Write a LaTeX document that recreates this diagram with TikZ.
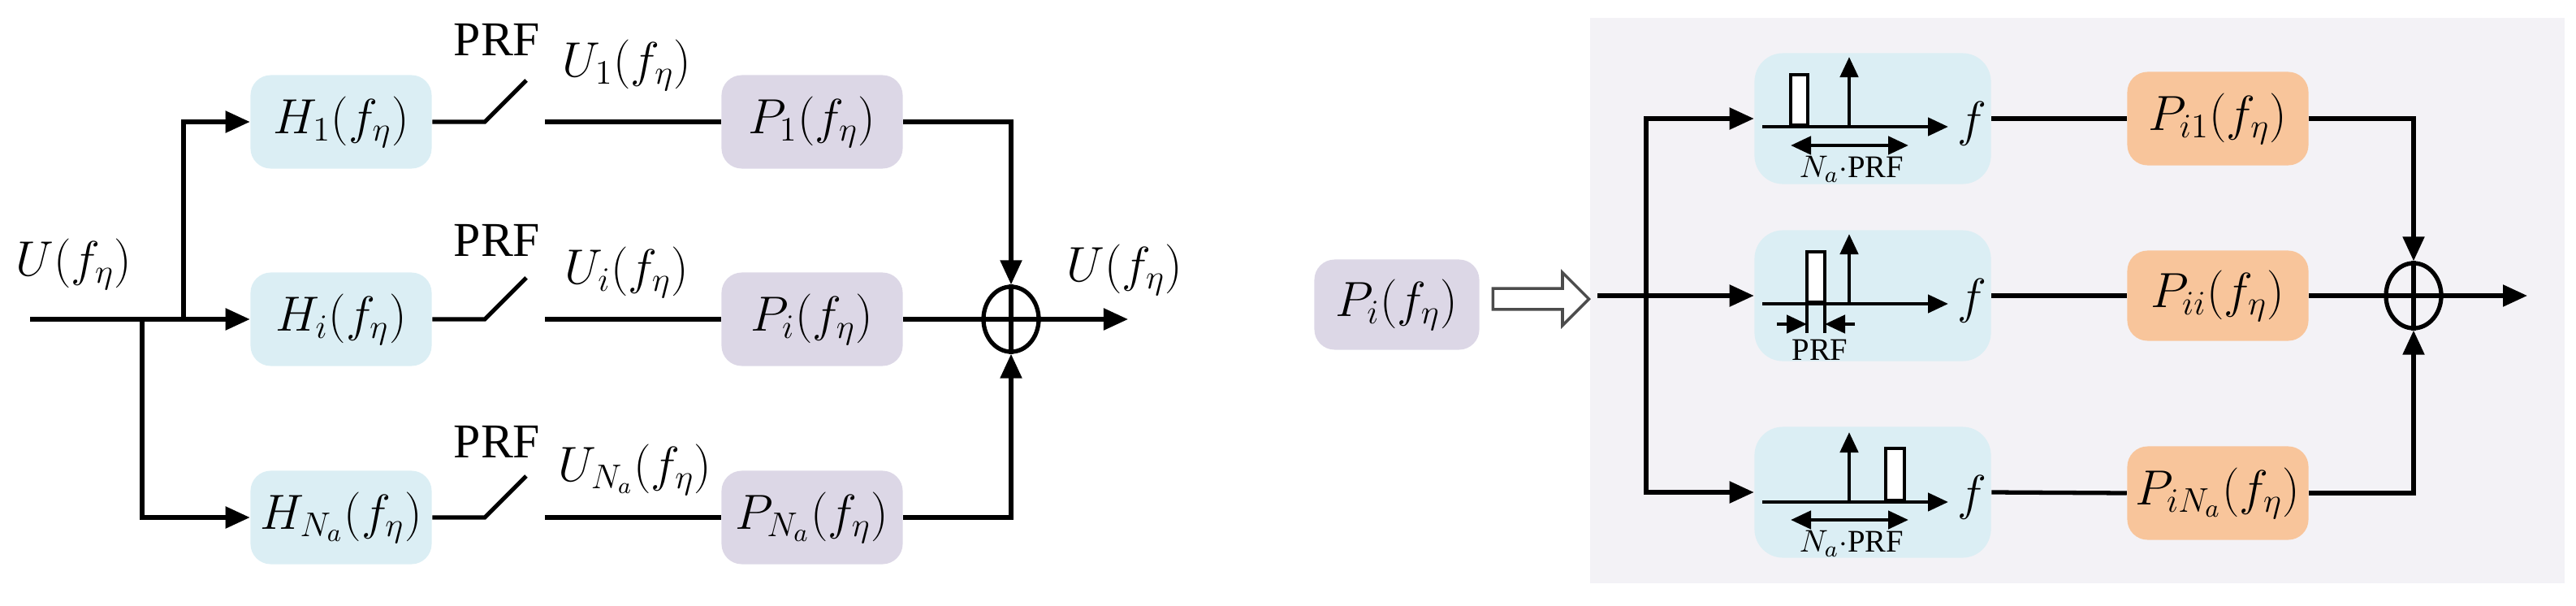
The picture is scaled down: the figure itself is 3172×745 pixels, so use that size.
\documentclass[tikz,border=0pt]{standalone}
\usepackage{fontspec}
\setmainfont{Liberation Serif}
\usetikzlibrary{arrows.meta,shapes.geometric,shapes.arrows}
\definecolor{hblue}{HTML}{DBEEF4}
\definecolor{ppurp}{HTML}{DCD7E6}
\definecolor{porange}{HTML}{F8C59B}
\definecolor{bgc}{HTML}{F3F2F6}
\tikzset{
  blk/.style={rounded corners=0.25cm, minimum width=2.23cm, minimum height=1.15cm, inner sep=0pt, font=\fontsize{18}{22}\selectfont},
  hb/.style={blk, fill=hblue},
  pb/.style={blk, fill=ppurp},
  ob/.style={blk, fill=porange},
  fb/.style={rounded corners=0.35cm, minimum width=2.91cm, minimum height=1.61cm, inner sep=0pt, fill=hblue},
  ln/.style={line width=1.5pt},
  arr/.style={ln,-{Triangle[length=0.3cm,width=0.26cm]}},
  sarr/.style={line width=1.3pt,-{Triangle[length=0.25cm,width=0.22cm]}},
  darr/.style={line width=1.3pt,{Triangle[length=0.25cm,width=0.22cm]}-{Triangle[length=0.25cm,width=0.22cm]}},
  sum/.style={ellipse, draw, line width=1.5pt, minimum width=0.68cm, minimum height=0.8cm, inner sep=0pt},
  lab/.style={font=\fontsize{17}{20}\selectfont, inner sep=0pt},
  slab/.style={font=\fontsize{11}{13}\selectfont, inner sep=0pt},
  bar/.style={draw, fill=white, line width=1pt}
}
\begin{document}
\begin{tikzpicture}[x=0.01cm,y=-0.01cm]
\useasboundingbox (0,0) rectangle (3172,745);
% ---------- left ----------
\node[hb] (H1) at (420,150) {$H_1\big(f_\eta\big)$};
\node[hb] (Hi) at (420,393) {$H_i\big(f_\eta\big)$};
\node[hb] (HN) at (420,637) {$H_{N_a}\big(f_\eta\big)$};
\node[pb] (P1) at (1000,150) {$P_1\big(f_\eta\big)$};
\node[pb] (Pi) at (1000,393) {$P_i\big(f_\eta\big)$};
\node[pb] (PN) at (1000,637) {$P_{N_a}\big(f_\eta\big)$};
\coordinate (in) at (37,393);
\coordinate (j1) at (175,393);
\coordinate (j2) at (226,393);
\draw[arr] (in) -- (Hi.west);
\draw[arr] (j2) |- (H1.west);
\draw[arr] (j1) |- (HN.west);
\foreach \r/\y in {1/150,i/393,N/637}{
  \coordinate (sa\r) at (597,\y);
  \coordinate (sb\r) at (648,\y-51);
  \coordinate (sc\r) at (671,\y);
}
\draw[ln] (H1.east) -- (sa1) -- (sb1);
\draw[ln] (Hi.east) -- (sai) -- (sbi);
\draw[ln] (HN.east) -- (saN) -- (sbN);
\draw[ln] (sc1) -- (P1.west);
\draw[ln] (sci) -- (Pi.west);
\draw[ln] (scN) -- (PN.west);
\node[sum] (S) at (1245,393) {};
\coordinate (out) at (1389,393);
\draw[arr] (P1.east) -| (S.north);
\draw[arr] (PN.east) -| (S.south);
\draw[ln] (Pi.east) -- (S.west);
\draw[ln] (S.west) -- (S.east);
\draw[ln] (S.north) -- (S.south);
\draw[arr] (S.east) -- (out);
\node[lab] (Lin) at (91,325) {$U\big(f_\eta\big)$};
\node[lab] (Lout) at (1385,332) {$U\big(f_\eta\big)$};
\node[lab] (PRF1) at (612,49) {PRF};
\node[lab] (PRF2) at (612,296) {PRF};
\node[lab] (PRF3) at (612,544) {PRF};
\node[lab] (U1) at (772,80) {$U_1\big(f_\eta\big)$};
\node[lab] (Ui) at (772,335) {$U_i\big(f_\eta\big)$};
\node[lab] (UN) at (782,578) {$U_{N_a}\big(f_\eta\big)$};
% ---------- right ----------
\fill[bgc] (1958,22) rectangle (3158,718);
\node[pb, minimum width=2.03cm, minimum height=1.11cm] (Pin) at (1720,375) {$P_i\big(f_\eta\big)$};
\node[single arrow, draw=black!70, fill=white, line width=1pt, minimum height=1.18cm, minimum width=0.65cm, single arrow head extend=0.08cm, inner sep=1pt] (big) at (1891,368) {};
\node[fb] (F1) at (2306,146) {};
\node[fb] (F2) at (2306,364) {};
\node[fb] (F3) at (2306,606) {};
\node[ob] (Q1) at (2731,146) {$P_{i1}\big(f_\eta\big)$};
\node[ob, minimum height=1.11cm] (Q2) at (2731,364) {$P_{ii}\big(f_\eta\big)$};
\node[ob] (Q3) at (2731,607) {$P_{iN_a}\big(f_\eta\big)$};
\coordinate (rin) at (1967,364);
\coordinate (rj) at (2027,364);
\draw[arr] (rin) -- (F2.west);
\draw[arr] (rj) |- (F1.west);
\draw[arr] (rj) |- (F3.west);
\draw[ln] (F1.east) -- (Q1.west);
\draw[ln] (F2.east) -- (Q2.west);
\draw[ln] (F3.east) -- (Q3.west);
\node[sum] (S2) at (2972,364) {};
\coordinate (out2) at (3112,364);
\draw[arr] (Q1.east) -| (S2.north);
\draw[arr] (Q3.east) -| (S2.south);
\draw[ln] (Q2.east) -- (S2.west);
\draw[ln] (S2.west) -- (S2.east);
\draw[ln] (S2.north) -- (S2.south);
\draw[arr] (S2.east) -- (out2);
% filter contents
% row 1
\draw[bar] (2205,92) rectangle (2226,154);
\draw[sarr] (2170,156) -- (2399,156);
\draw[sarr] (2277,156) -- (2277,70);
\draw[darr] (2205,179) -- (2350,179);
\node[slab] (na1) at (2280,208) {$N_a\cdot$PRF};
\node[lab] (f1) at (2428,152) {$f$};
% row 2
\draw[bar] (2225,310) rectangle (2247,372);
\draw[sarr] (2170,374) -- (2399,374);
\draw[sarr] (2277,374) -- (2277,288);
\draw[line width=1.2pt] (2225,372) -- (2225,410);
\draw[line width=1.2pt] (2247,372) -- (2247,410);
\draw[sarr] (2188,399) -- (2225,399);
\draw[sarr] (2284,399) -- (2247,399);
\node[slab] (prf2) at (2241,431) {PRF};
\node[lab] (f2) at (2428,370) {$f$};
% row 3
\draw[bar] (2322,552) rectangle (2345,616);
\draw[sarr] (2170,618) -- (2399,618);
\draw[sarr] (2277,618) -- (2277,532);
\draw[darr] (2205,640) -- (2350,640);
\node[slab] (na3) at (2280,669) {$N_a\cdot$PRF};
\node[lab] (f3) at (2428,612) {$f$};
\end{tikzpicture}
\end{document}
